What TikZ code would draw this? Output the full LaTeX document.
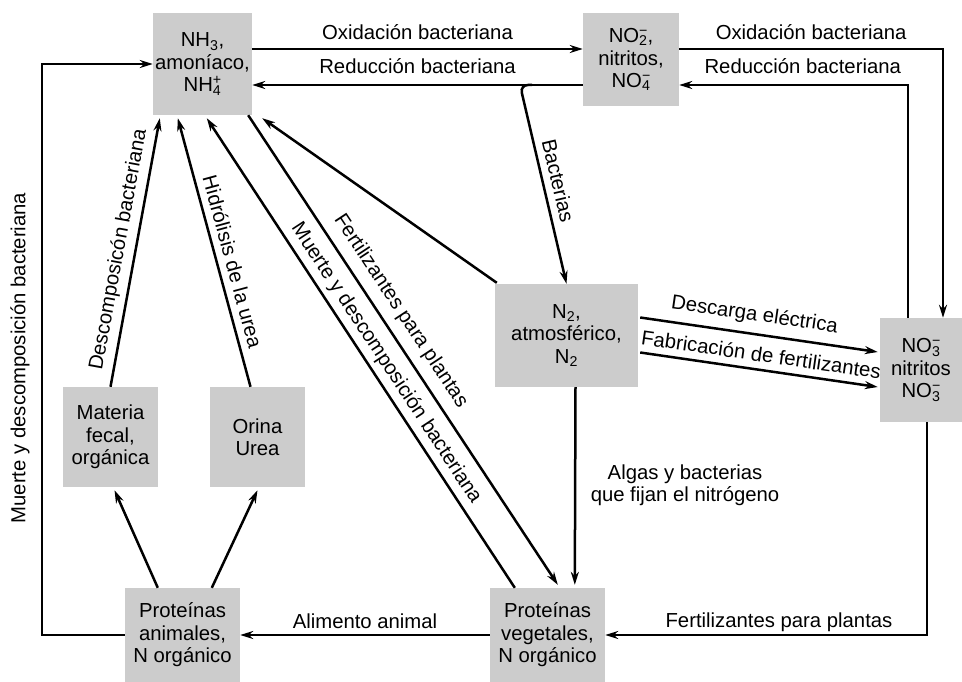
\documentclass[tikz,border=0pt]{standalone}
\usepackage{fontspec}
\setmainfont{Liberation Sans}
\usetikzlibrary{arrows.meta,calc}
\newcommand\ionss[2]{\rlap{\textsuperscript{#2}}\textsubscript{#1}}
\begin{document}
\begin{tikzpicture}[x=1pt,y=-1pt,
  font=\fontsize{20.3}{22.5}\selectfont,
  box/.style={fill=black!20, inner sep=0pt, align=center},
  arr/.style={line width=2.5pt, -{Stealth[length=13pt,width=8pt]}},
  lbl/.style={inner sep=1pt, text depth=0pt}]
\useasboundingbox (0,0) rectangle (962,682);
% nodes
\node[box, minimum width=99pt, minimum height=102pt] (nh3) at (202.5,64) {NH\textsubscript{3},\\amoníaco,\\NH\ionss{4}{+}};
\node[box, minimum width=96pt, minimum height=93pt] (no2) at (631,59.5) {NO\ionss{2}{−},\\nitritos,\\NO\ionss{4}{−}};
\node[box, minimum width=82pt, minimum height=104pt] (no3) at (921,370) {NO\ionss{3}{−}\\nitritos\\NO\ionss{3}{−}};
\node[box, minimum width=143pt, minimum height=103pt] (n2) at (566.5,335.5) {N\textsubscript{2},\\atmosférico,\\N\textsubscript{2}};
\node[box, minimum width=95pt, minimum height=100pt] (fecal) at (110.5,437) {Materia\\fecal,\\orgánica};
\node[box, minimum width=95pt, minimum height=100pt] (orina) at (257.5,437) {Orina\\Urea};
\node[box, minimum width=115pt, minimum height=94pt] (panim) at (182.5,635) {Proteínas\\animales,\\N orgánico};
\node[box, minimum width=115pt, minimum height=94pt] (pveg) at (547.5,635) {Proteínas\\vegetales,\\N orgánico};
% helper coordinates
\coordinate (yA) at (0,49);
\coordinate (yB) at (0,85);
\coordinate (xR1) at (943,0);
\coordinate (xR2) at (908,0);
\coordinate (xL) at (42,0);
\coordinate (bst) at (532,85);
% top connectors
\draw[arr] (nh3.east |- yA) -- node[lbl,above=7pt]{Oxidación bacteriana} (no2.west |- yA);
\draw[arr] (no2.west |- yB) -- node[lbl,above=9pt]{Reducción bacteriana} (nh3.east |- yB);
\draw[arr] (no2.east |- yA) -| node[lbl,above=7pt,pos=0.25]{Oxidación bacteriana} (xR1 |- no3.north);
\draw[arr] (xR2 |- no3.north) |- node[lbl,above=9pt,pos=0.73]{Reducción bacteriana} (no2.east |- yB);
% bacterias
\draw[arr, rounded corners=8pt] (bst) -- (520,85) -- node[lbl,sloped,above=6pt]{Bacterias} (n2.north);
% into NH3
\draw[arr] ($(n2.north west)+(2,-1)$) -- ($(nh3.south east)+(10,3)$);
\draw[arr] (fecal.north) -- node[lbl,sloped,above=9pt]{Descomposicón bacteriana} ($(nh3.south west)+(7,3)$);
\draw[arr] ($(orina.north)+(-7,0)$) -- node[lbl,sloped,above=6pt,pos=0.45]{Hidrólisis de la urea} ($(nh3.south west)+(25,3)$);
\draw[arr] ($(pveg.north west)+(25,0)$) -- node[lbl,sloped,above=8pt,pos=0.46]{Muerte y descomposición bacteriana} ($(nh3.south west)+(54,3)$);
\draw[arr] ($(nh3.south east)+(-4,0)$) -- node[lbl,sloped,above=12pt,pos=0.44]{Fertilizantes para plantas} ($(pveg.north west)+(68,-3)$);
% animals
\draw[arr] ($(panim.north west)+(33,0)$) -- ($(fecal.south)+(4,3)$);
\draw[arr] ($(panim.north west)+(87,0)$) -- ($(orina.south)+(0,3)$);
\draw[arr] (pveg.west) -- node[lbl,above=4pt]{Alimento animal} (panim.east);
\draw[arr] (panim.west) -| (xL |- nh3.west) -- (nh3.west);
\node[lbl, rotate=90] (lmd) at (18,358) {Muerte y descomposición bacteriana};
% N2 connectors
\draw[arr] ($(n2.east)+(2,-18)$) -- node[lbl,sloped,above=11pt,pos=0.47]{Descarga eléctrica} ($(no3.west)+(-2,-18)$);
\draw[arr] ($(n2.east)+(2,17)$) -- node[lbl,sloped,above=6pt,pos=0.5]{Fabricación de fertilizantes} ($(no3.west)+(-2,17)$);
\draw[arr] ($(n2.south)+(9,0)$) -- ($(pveg.north west)+(85,-3)$);
\node[align=center, inner sep=0pt] (algas) at (685,485) {Algas y bacterias\\que fijan el nitrógeno};
\draw[arr] ($(no3.south)+(6,0)$) |- node[lbl,above=5pt,pos=0.73]{Fertilizantes para plantas} (pveg.east);
\end{tikzpicture}
\end{document}
